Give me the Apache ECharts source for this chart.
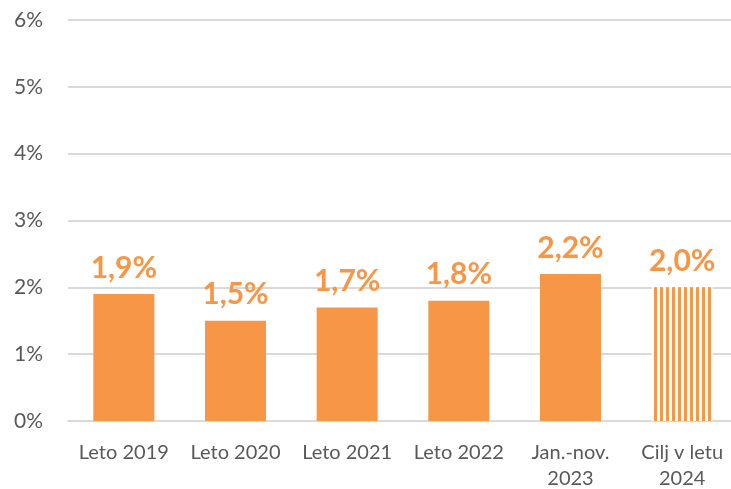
<!DOCTYPE html>
<html><head><meta charset="utf-8">
<script src="https://cdn.jsdelivr.net/npm/echarts@6/dist/echarts.min.js"></script>
<style>html,body{margin:0;padding:0;background:#fff}#c{width:731px;height:489px}</style>
</head><body><div id="c"></div>
<script>
const categories = ['Leto 2019','Leto 2020','Leto 2021','Leto 2022','Jan.-nov.\n2023','Cilj v letu\n2024'];
const values = [1.9, 1.5, 1.7, 1.8, 2.2, 2.0];
const yTicks = [0,1,2,3,4,5,6];
const striped = [false,false,false,false,false,true];

const ORANGE = '#F79646';
const pc = document.createElement('canvas');
pc.width = 6; pc.height = 6;
const g = pc.getContext('2d');
g.fillStyle = '#ffffff'; g.fillRect(0,0,6,6);
g.fillStyle = ORANGE; g.fillRect(0,0,3,6);

const chart = echarts.init(document.getElementById('c'), null, {renderer:'canvas'});
chart.setOption({
  animation:false,
  grid:{left:68, top:20, width:670, height:401, containLabel:false, outerBoundsMode:'none'},
  xAxis:{type:'category', data:categories,
    axisLine:{show:true, lineStyle:{color:'#D9D9D9', width:2}},
    axisTick:{show:false},
    axisLabel:{color:'#595959', fontSize:20, fontFamily:'Lato', margin:19, lineHeight:26, interval:0}},
  yAxis:{type:'value', min:yTicks[0], max:yTicks[yTicks.length-1], interval:1,
    axisLine:{show:false}, axisTick:{show:false},
    splitLine:{lineStyle:{color:'#D9D9D9', width:2}},
    axisLabel:{color:'#595959', fontSize:21, fontFamily:'Lato', margin:25, formatter:v=>v+'%'}},
  series:[{type:'bar', barWidth:61,
    data: values.map((v,i)=>({value:v, itemStyle:{color: striped[i] ? {image:pc, repeat:'repeat'} : ORANGE}})),
    label:{show:true, position:'top', distance:11, color:ORANGE, fontSize:30, fontWeight:'bold', fontFamily:'Lato',
      formatter:p=>p.value.toFixed(1).replace('.',',')+'%'}}]
});
</script></body></html>
